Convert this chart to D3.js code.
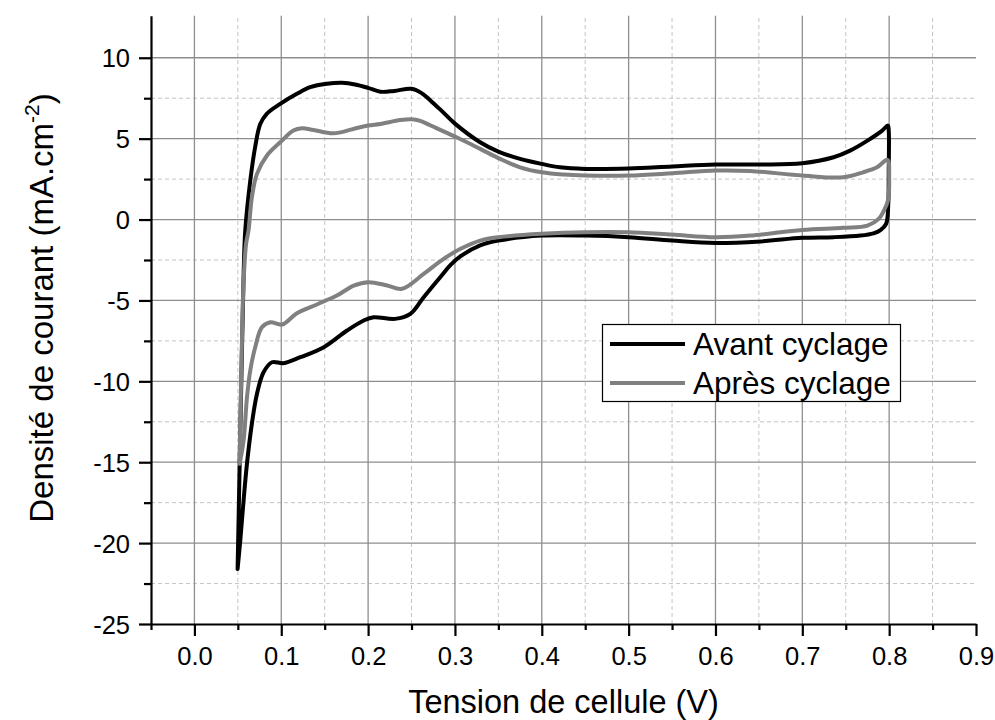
<!DOCTYPE html>
<html>
<head>
<meta charset="utf-8">
<script src="https://cdn.jsdelivr.net/npm/d3@7"></script>
<style>
  body { margin: 0; background: #fff; }
  svg { font-family: Arial, "Liberation Sans", sans-serif; }
</style>
</head>
<body>
<svg id="chart" width="995" height="720"></svg>
<script>
// voltammetry loops, [tension V, densite mA/cm2]
var avantAller = [[0.0497,-21.6],[0.0505,-19.5],[0.0521,-15.1],[0.054,-10],[0.056,-5],[0.0585,-0.7],[0.0643,2.4],[0.070,4.5],[0.0758,5.9],[0.0835,6.55],[0.0988,7.15],[0.118,7.77],[0.1334,8.18],[0.1526,8.39],[0.17,8.45],[0.185,8.35],[0.2,8.14],[0.214,7.9],[0.23,7.95],[0.25,8.08],[0.262,7.8],[0.272,7.35],[0.285,6.7],[0.30,5.93],[0.329,4.78],[0.35,4.2],[0.375,3.75],[0.40,3.44],[0.421,3.23],[0.45,3.13],[0.5,3.15],[0.55,3.28],[0.6,3.4],[0.652,3.4],[0.70,3.48],[0.736,3.85],[0.755,4.26],[0.775,4.88],[0.792,5.5],[0.7985,5.81]]
var avantRetour = [[0.7995,5.5],[0.7995,3],[0.799,1],[0.7965,-0.27],[0.79,-0.65],[0.782,-0.85],[0.767,-0.99],[0.736,-1.09],[0.70,-1.13],[0.652,-1.35],[0.6,-1.45],[0.55,-1.3],[0.5,-1.09],[0.45,-0.99],[0.40,-0.99],[0.35,-1.3],[0.329,-1.6],[0.307,-2.25],[0.295,-2.8],[0.284,-3.5],[0.264,-4.8],[0.2486,-5.83],[0.231,-6.14],[0.2064,-6.04],[0.195,-6.24],[0.1757,-6.86],[0.149,-7.89],[0.122,-8.51],[0.1026,-8.88],[0.0893,-8.82],[0.0796,-9.44],[0.072,-10.78],[0.0662,-12.6],[0.0605,-15.1],[0.0566,-17.37],[0.0528,-19.84],[0.0497,-21.6]]

var apresAller = [[0.052,-15.1],[0.053,-12],[0.0545,-8],[0.0565,-4],[0.0595,-1.5],[0.0623,-0.68],[0.0662,1.38],[0.072,2.82],[0.0835,3.96],[0.0988,4.78],[0.114,5.5],[0.1238,5.64],[0.137,5.54],[0.16,5.33],[0.183,5.6],[0.2,5.81],[0.214,5.91],[0.237,6.15],[0.25,6.2],[0.26,6.1],[0.272,5.81],[0.30,5.13],[0.329,4.37],[0.352,3.75],[0.375,3.23],[0.40,2.92],[0.425,2.78],[0.45,2.72],[0.5,2.72],[0.55,2.86],[0.60,3.03],[0.64,3.0],[0.70,2.72],[0.747,2.61],[0.77,2.92],[0.786,3.23],[0.798,3.69]]
var apresRetour = [[0.80,2.61],[0.7985,1.17],[0.794,0.56],[0.788,0.04],[0.775,-0.37],[0.747,-0.51],[0.70,-0.64],[0.64,-0.99],[0.60,-1.09],[0.55,-0.93],[0.5,-0.78],[0.45,-0.78],[0.40,-0.88],[0.35,-1.09],[0.329,-1.3],[0.3065,-1.81],[0.287,-2.43],[0.264,-3.36],[0.239,-4.28],[0.222,-4.08],[0.2006,-3.87],[0.1835,-4.08],[0.164,-4.7],[0.141,-5.25],[0.118,-5.79],[0.101,-6.49],[0.0875,-6.35],[0.0778,-6.65],[0.07,-7.89],[0.0643,-9.33],[0.0605,-11],[0.0566,-13.66],[0.052,-15.1]]

var seriesNames = ["Avant cyclage", "Après cyclage"]
var seriesColors = ["#000000", "#808080"]

var xMajor = [0.0, 0.1, 0.2, 0.3, 0.4, 0.5, 0.6, 0.7, 0.8, 0.9]
var xMinor = [-0.05, 0.05, 0.15, 0.25, 0.35, 0.45, 0.55, 0.65, 0.75, 0.85]
var yMajor = [-25, -20, -15, -10, -5, 0, 5, 10]
var yMinor = [-22.5, -17.5, -12.5, -7.5, -2.5, 2.5, 7.5]

var svg = d3.select("#chart")

// note: "top" is taken by window.top
var plotLeft = 151, plotRight = 976, plotTop = 15.7, plotBottom = 624

var x = d3.scaleLinear().domain([-0.05, 0.9]).range([plotLeft, plotRight])
var y = d3.scaleLinear().domain([-25, 12.6]).range([plotBottom, plotTop])

// grid
var grid = svg.append("g")
grid.selectAll(".vmin").data(xMinor.filter(function(d){ return d > -0.05 }))
  .enter().append("line")
  .attr("x1", function(d){ return x(d) }).attr("x2", function(d){ return x(d) })
  .attr("y1", plotBottom).attr("y2", plotTop)
  .attr("stroke", "#c4c4c4").attr("stroke-width", 1).attr("stroke-dasharray", "4,3")
grid.selectAll(".hmin").data(yMinor)
  .enter().append("line")
  .attr("x1", plotLeft).attr("x2", plotRight)
  .attr("y1", function(d){ return y(d) }).attr("y2", function(d){ return y(d) })
  .attr("stroke", "#c4c4c4").attr("stroke-width", 1).attr("stroke-dasharray", "4,3")
grid.selectAll(".vmaj").data(xMajor.filter(function(d){ return d < 0.9 }))
  .enter().append("line")
  .attr("x1", function(d){ return x(d) }).attr("x2", function(d){ return x(d) })
  .attr("y1", plotBottom).attr("y2", plotTop)
  .attr("stroke", "#8e8e8e").attr("stroke-width", 1.3)
grid.selectAll(".hmaj").data(yMajor.filter(function(d){ return d > -25 }))
  .enter().append("line")
  .attr("x1", plotLeft).attr("x2", plotRight)
  .attr("y1", function(d){ return y(d) }).attr("y2", function(d){ return y(d) })
  .attr("stroke", "#8e8e8e").attr("stroke-width", 1.3)

// curves
var line = d3.line()
  .x(function(d){ return x(d[0]) })
  .y(function(d){ return y(d[1]) })
  .curve(d3.curveCatmullRom.alpha(0.5))

var loops = [avantAller.concat(avantRetour), apresAller.concat(apresRetour)]
loops.forEach(function(pts, i) {
  svg.append("path")
    .attr("d", line(pts))
    .attr("fill", "none")
    .attr("stroke", seriesColors[i])
    .attr("stroke-width", 4)
    .attr("stroke-linejoin", "round")
    .attr("stroke-linecap", "round")
})

// axes
var xAxis = svg.append("g").attr("transform", "translate(0," + plotBottom + ")")
  .call(d3.axisBottom(x).tickValues(xMajor).tickSize(12).tickSizeOuter(0)
    .tickFormat(function(d){ return d.toFixed(1) }))
xAxis.append("g").call(d3.axisBottom(x).tickValues(xMinor).tickSize(6).tickFormat(""))
  .select(".domain").remove()

// plain hyphen for negatives, like the original
var yAxis = svg.append("g").attr("transform", "translate(" + plotLeft + ",0)")
  .call(d3.axisLeft(y).tickValues(yMajor).tickSize(12).tickSizeOuter(0)
    .tickFormat(function(d){ return String(d) }))
yAxis.append("g").call(d3.axisLeft(y).tickValues(yMinor).tickSize(7).tickFormat(""))
  .select(".domain").remove()

svg.selectAll(".domain").attr("stroke", "#000").attr("stroke-width", 2.2)
svg.selectAll(".tick line").attr("stroke", "#000").attr("stroke-width", 2.2)
xAxis.selectAll(".tick text").attr("font-size", 25.5).attr("font-family", "Arial, 'Liberation Sans', sans-serif")
  .attr("fill", "#000").attr("dy", null).attr("y", 41).attr("dominant-baseline", "auto")
yAxis.selectAll(".tick text").attr("font-size", 25.5).attr("font-family", "Arial, 'Liberation Sans', sans-serif")
  .attr("fill", "#000").attr("x", -21).attr("dy", "0.36em")

// titles
svg.append("text")
  .attr("x", (409 + 718) / 2).attr("y", 713)
  .attr("text-anchor", "middle").attr("font-size", 32.5)
  .text("Tension de cellule (V)")

var yt = svg.append("text")
  .attr("transform", "translate(53,308) rotate(-90)")
  .attr("text-anchor", "middle").attr("font-size", 33)
yt.append("tspan").text("Densité de courant (mA.cm")
yt.append("tspan").attr("font-size", 21).attr("dy", -14).text("-2")
yt.append("tspan").attr("dy", 14).text(")")

// legend
var lg = svg.append("g")
lg.append("rect").attr("x", 602.5).attr("y", 324.5).attr("width", 298).attr("height", 77)
  .attr("fill", "#fff").attr("stroke", "#000").attr("stroke-width", 1.2)
seriesNames.forEach(function(name, i) {
  var ly = 344 + i * 39
  lg.append("line").attr("x1", 610).attr("x2", 685).attr("y1", ly).attr("y2", ly)
    .attr("stroke", seriesColors[i]).attr("stroke-width", 4)
  lg.append("text").attr("x", 693).attr("y", ly).attr("dy", "0.36em")
    .attr("font-size", 31.5).text(name)
})
</script>
</body>
</html>
